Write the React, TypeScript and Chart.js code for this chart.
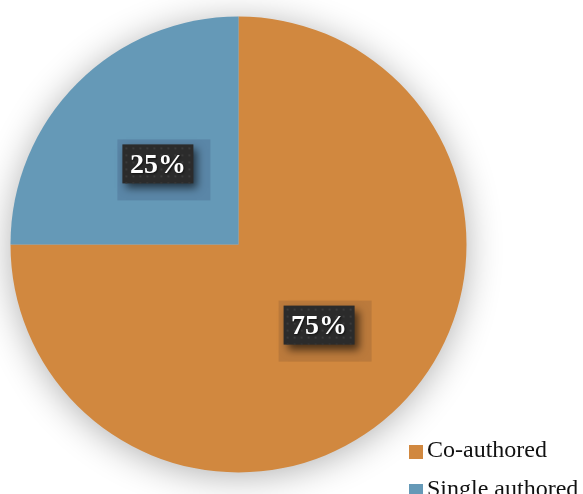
import React, { useEffect, useRef } from "react";
import { Chart, registerables } from "chart.js";

Chart.register(...registerables);

const categories = ["Co-authored", "Single authored"];
const shares = [75, 25];
const sliceColors = ["#D1883F", "#6599B7"];
const labelTexts = ["75%", "25%"];

const pieShadow = {
  id: "pieShadow",
  beforeDatasetsDraw(chart: any) {
    const meta = chart.getDatasetMeta(0);
    const arc = meta.data[0];
    if (!arc) return;
    const ctx = chart.ctx;
    ctx.save();
    ctx.shadowColor = "rgba(0,0,0,0.32)";
    ctx.shadowBlur = 36;
    ctx.shadowOffsetX = 0;
    ctx.shadowOffsetY = 4;
    ctx.fillStyle = "#bbb";
    ctx.beginPath();
    ctx.arc(arc.x, arc.y, arc.outerRadius - 1, 0, Math.PI * 2);
    ctx.fill();
    ctx.restore();
  },
};

const boxLabels = {
  id: "boxLabels",
  afterDatasetsDraw(chart: any) {
    const ctx = chart.ctx;
    const meta = chart.getDatasetMeta(0);
    meta.data.forEach((arc: any, i: number) => {
      const p = arc.tooltipPosition();
      const w = 71;
      const h = 39;
      const x = p.x - w / 2;
      const y = p.y - h / 2;
      ctx.save();
      ctx.fillStyle = i === 0 ? "rgba(60,40,40,0.14)" : "rgba(40,40,90,0.16)";
      ctx.fillRect(x - 5, y - 5, w + 22, h + 22);
      ctx.shadowColor = "rgba(0,0,0,0.6)";
      ctx.shadowBlur = 8;
      ctx.shadowOffsetX = 4;
      ctx.shadowOffsetY = 5;
      ctx.fillStyle = "#2b2b2b";
      ctx.fillRect(x, y, w, h);
      ctx.restore();
      ctx.save();
      ctx.beginPath();
      ctx.rect(x, y, w, h);
      ctx.clip();
      ctx.fillStyle = "#3b3b3b";
      for (let dx = 3; dx < w; dx += 7) {
        for (let dy = 3; dy < h; dy += 7) {
          ctx.fillRect(x + dx, y + dy, 2, 2);
        }
      }
      ctx.restore();
      ctx.save();
      ctx.fillStyle = "#ffffff";
      ctx.font = "bold 28px 'Liberation Serif', 'Times New Roman', serif";
      ctx.textAlign = "center";
      ctx.textBaseline = "middle";
      ctx.shadowColor = "rgba(0,0,0,0.6)";
      ctx.shadowBlur = 2;
      ctx.shadowOffsetX = 1;
      ctx.shadowOffsetY = 1;
      ctx.fillText(labelTexts[i], p.x, p.y + 2);
      ctx.restore();
    });
  },
};

const customLegend = {
  id: "customLegend",
  afterDraw(chart: any) {
    const ctx = chart.ctx;
    const labels = chart.data.labels as string[];
    const colors = chart.data.datasets[0].backgroundColor as string[];
    ctx.save();
    ctx.font = "24px 'Liberation Serif', 'Times New Roman', serif";
    ctx.textBaseline = "alphabetic";
    ctx.textAlign = "left";
    labels.forEach((lab, i) => {
      const base = 457 + i * 39;
      ctx.fillStyle = colors[i];
      ctx.fillRect(409, base - 12, 14, 14);
      ctx.fillStyle = "#111111";
      ctx.fillText(lab, 427, base);
    });
    ctx.restore();
  },
};

export default function App() {
  const ref = useRef<HTMLCanvasElement | null>(null);
  useEffect(() => {
    if (!ref.current) return;
    const chart = new Chart(ref.current, {
      type: "pie",
      data: {
        labels: categories,
        datasets: [
          {
            data: shares,
            backgroundColor: sliceColors,
            borderWidth: 0,
          },
        ],
      },
      options: {
        animation: false,
        responsive: false,
        layout: { padding: { left: 10.5, right: 116.5, top: 16.5, bottom: 21.5 } },
        plugins: {
          legend: { display: false },
          tooltip: { enabled: false },
        },
      },
      plugins: [pieShadow, boxLabels, customLegend],
    });
    return () => chart.destroy();
  }, []);
  return (
    <div style={{ position: "fixed", left: 0, top: 0, width: 583, height: 494, background: "#fff" }}>
      <canvas ref={ref} width={583} height={494} style={{ display: "block" }} />
    </div>
  );
}
